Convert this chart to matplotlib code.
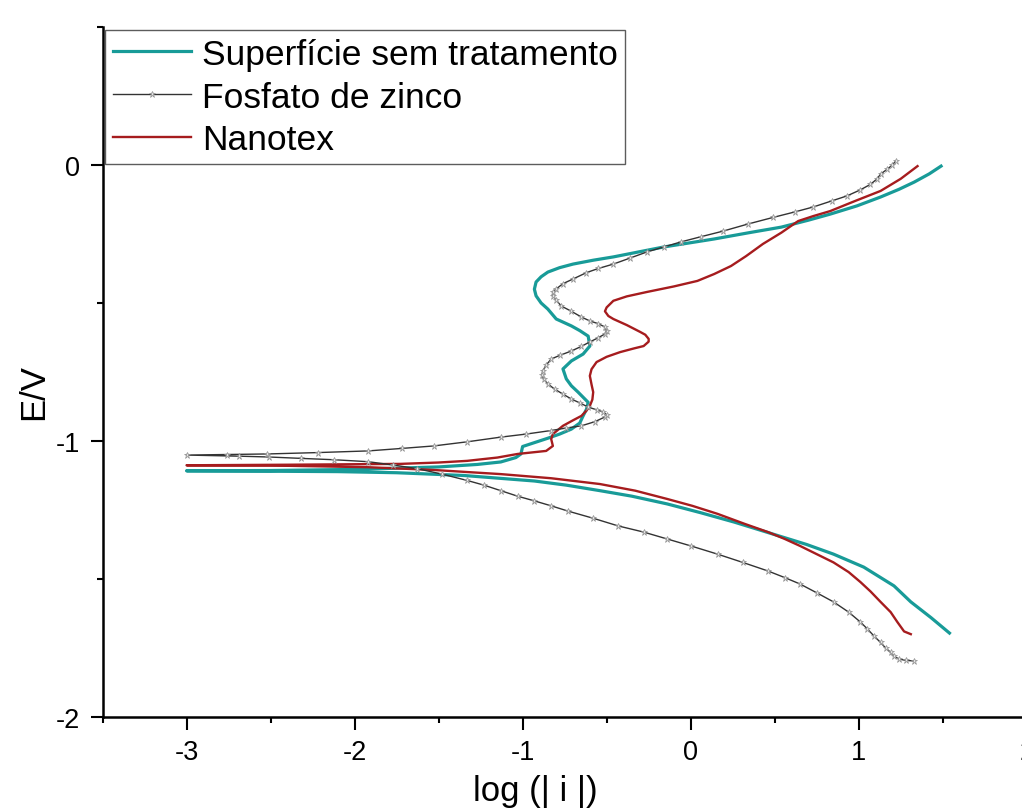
import numpy as np
import matplotlib
matplotlib.use("Agg")
from matplotlib import pyplot as plt
from matplotlib.ticker import MultipleLocator

plt.rcParams['font.family'] = ['Liberation Sans', 'DejaVu Sans']
plt.rcParams['axes.unicode_minus'] = False

# Superficie sem tratamento: E (V) and log|i|
E_sem = [-1.696, -1.64, -1.583, -1.525, -1.457, -1.41, -1.375, -1.343, -1.294, -1.26,
         -1.228, -1.20, -1.18, -1.16, -1.145, -1.125, -1.115, -1.111, -1.110, -1.108,
         -1.107, -1.103, -1.094, -1.085, -1.076, -1.06, -1.047, -1.02, -1.01, -0.99,
         -0.975, -0.957, -0.935, -0.909, -0.885, -0.86, -0.823, -0.80, -0.775, -0.739,
         -0.71, -0.685, -0.656, -0.62, -0.60, -0.583, -0.558, -0.522, -0.50, -0.474,
         -0.45, -0.424, -0.405, -0.388, -0.372, -0.359, -0.345, -0.333, -0.315, -0.297,
         -0.268, -0.245, -0.225, -0.20, -0.178, -0.148, -0.116, -0.088, -0.062, -0.032,
         -0.004]
i_sem = [1.54, 1.43, 1.31, 1.21, 1.03, 0.85, 0.69, 0.52, 0.26, 0.06,
         -0.14, -0.35, -0.54, -0.74, -0.93, -1.35, -1.75, -2.1, -2.39, -3.0,
         -2.5, -2.0, -1.5, -1.27, -1.13, -1.04, -1.01, -1.0, -0.95, -0.85,
         -0.78, -0.71, -0.66, -0.64, -0.62, -0.61, -0.67, -0.71, -0.74, -0.76,
         -0.71, -0.64, -0.60, -0.61, -0.66, -0.71, -0.80, -0.85, -0.89, -0.92,
         -0.93, -0.92, -0.89, -0.85, -0.78, -0.70, -0.58, -0.46, -0.31, -0.16,
         0.14, 0.35, 0.54, 0.70, 0.83, 0.99, 1.13, 1.24, 1.33, 1.42,
         1.49]

# Fosfato de zinco
E_fos = [-1.797, -1.795, -1.79, -1.78, -1.766, -1.75, -1.73, -1.706, -1.68, -1.656,
         -1.62, -1.583, -1.55, -1.518, -1.495, -1.471, -1.44, -1.41, -1.38, -1.355,
         -1.33, -1.308, -1.28, -1.254, -1.235, -1.217, -1.20, -1.18, -1.16, -1.143,
         -1.12, -1.10, -1.087, -1.075, -1.068, -1.063, -1.058, -1.055, -1.051, -1.049,
         -1.047, -1.042, -1.036, -1.027, -1.018, -1.003, -0.986, -0.975, -0.962, -0.953,
         -0.945, -0.93, -0.913, -0.905, -0.895, -0.887, -0.877, -0.862, -0.848, -0.83,
         -0.812, -0.793, -0.775, -0.76, -0.746, -0.725, -0.703, -0.69, -0.674, -0.657,
         -0.641, -0.626, -0.612, -0.60, -0.587, -0.575, -0.565, -0.551, -0.53, -0.511,
         -0.49, -0.474, -0.46, -0.449, -0.43, -0.413, -0.39, -0.375, -0.359, -0.337,
         -0.315, -0.297, -0.279, -0.26, -0.24, -0.214, -0.19, -0.17, -0.152, -0.13,
         -0.112, -0.09, -0.07, -0.05, -0.033, -0.015, 0.0, 0.014]
i_fos = [1.33, 1.28, 1.24, 1.21, 1.19, 1.16, 1.13, 1.09, 1.05, 1.01,
         0.94, 0.85, 0.75, 0.65, 0.56, 0.46, 0.31, 0.16, 0.0, -0.14,
         -0.28, -0.43, -0.58, -0.73, -0.83, -0.93, -1.03, -1.13, -1.23, -1.33,
         -1.48, -1.63, -1.77, -1.92, -2.12, -2.32, -2.51, -2.69, -3.0, -2.76,
         -2.52, -2.22, -1.92, -1.72, -1.53, -1.33, -1.13, -0.98, -0.83, -0.74,
         -0.65, -0.57, -0.51, -0.50, -0.52, -0.56, -0.61, -0.66, -0.71, -0.76,
         -0.81, -0.85, -0.875, -0.885, -0.88, -0.86, -0.83, -0.78, -0.71, -0.65,
         -0.60, -0.55, -0.51, -0.50, -0.51, -0.55, -0.60, -0.65, -0.71, -0.77,
         -0.80, -0.82, -0.82, -0.80, -0.76, -0.70, -0.62, -0.55, -0.46, -0.36,
         -0.26, -0.16, -0.06, 0.06, 0.19, 0.34, 0.49, 0.62, 0.73, 0.84,
         0.93, 1.01, 1.07, 1.11, 1.13, 1.17, 1.20, 1.22]

# Nanotex
E_nano = [-1.70, -1.69, -1.656, -1.62, -1.583, -1.545, -1.511, -1.475, -1.44, -1.41,
          -1.38, -1.355, -1.33, -1.30, -1.264, -1.235, -1.21, -1.18, -1.156, -1.135,
          -1.12, -1.105, -1.095, -1.090, -1.088, -1.086, -1.083, -1.078, -1.072, -1.06,
          -1.047, -1.036, -1.018, -0.993, -0.975, -0.96, -0.945, -0.925, -0.909, -0.89,
          -0.873, -0.85, -0.823, -0.795, -0.764, -0.74, -0.714, -0.695, -0.678, -0.665,
          -0.656, -0.64, -0.63, -0.615, -0.605, -0.58, -0.558, -0.547, -0.53, -0.516,
          -0.504, -0.492, -0.476, -0.46, -0.44, -0.42, -0.395, -0.366, -0.33, -0.286,
          -0.245, -0.203, -0.185, -0.167, -0.13, -0.094, -0.05, -0.004]
i_nano = [1.31, 1.27, 1.23, 1.19, 1.13, 1.07, 1.01, 0.94, 0.85, 0.75,
          0.65, 0.56, 0.46, 0.32, 0.16, 0.01, -0.14, -0.33, -0.54, -0.83,
          -1.13, -1.53, -1.92, -2.39, -3.0, -2.4, -1.73, -1.50, -1.33, -1.15,
          -1.03, -0.86, -0.82, -0.83, -0.82, -0.79, -0.76, -0.70, -0.65, -0.62,
          -0.60, -0.585, -0.58, -0.59, -0.60, -0.59, -0.56, -0.50, -0.42, -0.34,
          -0.28, -0.25, -0.25, -0.27, -0.30, -0.38, -0.46, -0.49, -0.51, -0.50,
          -0.48, -0.46, -0.38, -0.26, -0.10, 0.04, 0.14, 0.24, 0.33, 0.43,
          0.54, 0.64, 0.73, 0.83, 0.98, 1.13, 1.25, 1.35]

fig = plt.figure(figsize=(10.22, 8.12), dpi=100)
ax = fig.add_axes([0.1003, 0.1158, 1.151, 0.8497])

ax.plot(i_sem, E_sem, color='#189B98', lw=2.3, label='Superfície sem tratamento', zorder=3)
ax.plot(i_fos, E_fos, color='#333333', lw=1.0, marker='*', ms=4.5,
        mfc='#e4e4e4', mec='#8f8f8f', mew=0.5, label='Fosfato de zinco', zorder=4)
ax.plot(i_nano, E_nano, color='#A61C1E', lw=1.7, label='Nanotex', zorder=3)

ax.set_xlim(-3.5, 3.5)
ax.set_ylim(-2, 0.5)
ax.xaxis.set_major_locator(MultipleLocator(1))
ax.xaxis.set_minor_locator(MultipleLocator(0.5))
ax.yaxis.set_major_locator(MultipleLocator(1))
ax.yaxis.set_minor_locator(MultipleLocator(0.5))
ax.tick_params(which='major', direction='out', length=9, width=1.5, labelsize=19.5, pad=7)
ax.tick_params(which='minor', direction='out', length=4.5, width=1.5)

for s in ['top', 'right']:
    ax.spines[s].set_visible(False)
for s in ['left', 'bottom']:
    ax.spines[s].set_linewidth(1.8)

ax.set_xlabel('log (| i |)', fontsize=25)
ax.set_ylabel('E/V', fontsize=25)
ax.xaxis.set_label_coords(0.3676, -0.082)
ax.yaxis.set_label_coords(-0.0446, 0.4725)

leg = ax.legend(loc='upper left', bbox_to_anchor=(0.0, 1.0), borderaxespad=0.08,
                fontsize=25.5, frameon=True, fancybox=False, handlelength=2.2,
                handletextpad=0.3, labelspacing=0.28, borderpad=0.22)
leg.get_frame().set_edgecolor('#333333')
leg.get_frame().set_linewidth(1.0)

fig.savefig('out.png', dpi=100)
